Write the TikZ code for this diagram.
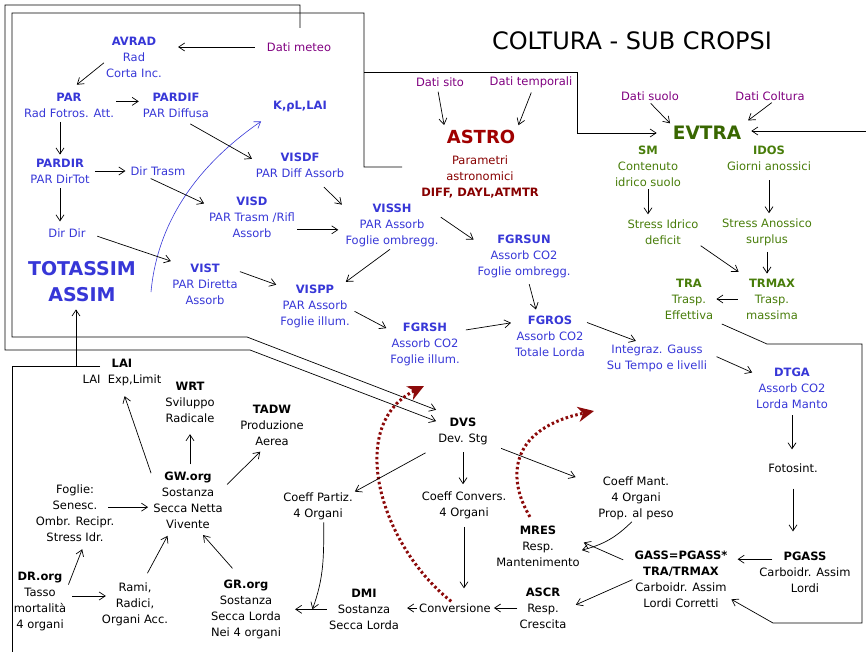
\documentclass[tikz,border=0pt]{standalone}
\usepackage{fontspec}
\setmainfont{DejaVu Sans}
\usepackage{color}
\usetikzlibrary{arrows.meta,calc}
\definecolor{blu}{RGB}{55,55,215}
\definecolor{viola}{RGB}{128,0,128}
\definecolor{rosso}{RGB}{160,0,0}
\definecolor{rossoT}{RGB}{135,0,0}
\definecolor{grnD}{RGB}{56,102,0}
\definecolor{grnT}{RGB}{72,125,10}
\definecolor{dkred}{RGB}{140,10,10}

\begin{document}
\begin{tikzpicture}[x=1pt, y=-1pt, font=\fontsize{11.5}{16}\selectfont,
		box/.style={align=center, inner sep=2pt},
		bl/.style={box, text=blu},
		gr/.style={box, text=grnT},
		bk/.style={box, text=black},
		dati/.style={box, text=viola},
		arr/.style={-{Straight Barb[length=6pt,width=8pt]}, line width=0.7pt},
		reddot/.style={draw=dkred, line width=3pt, dash pattern=on 2.5pt off 2.5pt, -{Stealth[length=16pt,width=15pt,inset=5pt]}}]
				\useasboundingbox (0,0) rectangle (866,652);
				\node[font=\fontsize{24}{28}\selectfont] (TITLE)at(632, 41) {COLTURA - SUB CROPSI};
				\node[bl] (AVRAD)at(134, 57.5) {\textbf{AVRAD}\\Rad\\Corta Inc.};
				\node[bl] (PAR)at(69, 105.5) {\textbf{PAR}\\Rad Fotros. Att.};
				\node[bl] (PARDIF)at(176, 105) {\textbf{PARDIF}\\PAR Diffusa};
				\node[bl] (PARDIR)at(60, 171) {\textbf{PARDIR}\\PAR DirTot};
				\node[bl] (DIRTR)at(158, 171) {Dir Trasm};
				\node[bl] (DIRDIR)at(67, 233) {Dir Dir};
				\node[bl] (KRL)at(300, 107) {\textbf{K,ρL,LAI}};
				\node[bl] (VISDF)at(300, 165.5) {\textbf{VISDF}\\PAR Diff Assorb};
				\node[bl] (VISD)at(252, 217.7) {\textbf{VISD}\\PAR Trasm /Rifl\\Assorb};
				\node[bl] (VISSH)at(392, 225.7) {\textbf{VISSH}\\PAR Assorb\\Foglie ombregg.};
				\node[bl] (VIST)at(205, 284.3) {\textbf{VIST}\\PAR Diretta\\Assorb};
				\node[bl] (VISPP)at(315, 306.7) {\textbf{VISPP}\\PAR Assorb\\Foglie illum.};
				\node[bl] (FGRSUN)at(524, 256.7) {\textbf{FGRSUN}\\Assorb CO2\\Foglie ombregg.};
				\node[bl] (FGRSH)at(425, 344) {\textbf{FGRSH}\\Assorb CO2\\Foglie illum.};
				\node[bl] (FGROS)at(550, 336) {\textbf{FGROS}\\Assorb CO2\\Totale Lorda};
				\node[bl] (GAUSS)at(657, 358) {Integraz. Gauss\\Su Tempo e livelli};
				\node[bl] (DTGA)at(792, 388.7) {\textbf{DTGA}\\Assorb CO2\\Lorda Manto};
				\node[bl, font=\fontsize{19}{26}\selectfont\bfseries] (TOTASSIM)at(82, 282) {TOTASSIM\\ASSIM};
				\node[bk] (FOTOS)at(793, 468) {Fotosint.};
				\node[bk] (PGASS)at(805, 572) {\textbf{PGASS}\\Carboidr. Assim\\Lordi};
				\node[bk] (GASS)at(681, 579.7) {\textbf{GASS=PGASS*}\\\textbf{TRA/TRMAX}\\Carboidr. Assim\\Lordi Corretti};
				\node[bk] (CMANT)at(636, 498) {Coeff Mant.\\4 Organi\\Prop. al peso};
				\node[bk] (DVS)at(463, 431.5) {\textbf{DVS}\\Dev. Stg};
				\node[bk] (CPART)at(318, 506.5) {Coeff Partiz.\\4 Organi};
				\node[bk] (CCONV)at(464, 505) {Coeff Convers.\\4 Organi};
				\node[bk] (CONV)at(455, 608) {Conversione};
				\node[bk] (ASCR)at(543, 608) {\textbf{ASCR}\\Resp.\\Crescita};
				\node[bk] (MRES)at(538, 546.3) {\textbf{MRES}\\Resp.\\Mantenimento};
				\node[bk] (DMI)at(364, 609.3) {\textbf{DMI}\\Sostanza\\Secca Lorda};
				\node[bk] (LAI)at(122, 373) {\textbf{LAI}\\LAI\ \ Exp,Limit};
				\node[bk] (WRT)at(190, 402.7) {\textbf{WRT}\\Sviluppo\\Radicale};
				\node[bk] (TADW)at(272, 425.7) {\textbf{TADW}\\Produzione\\Aerea};
				\node[bk] (GWORG)at(188, 500) {\textbf{GW.org}\\Sostanza\\Secca Netta\\Vivente};
				\node[bk] (FOGLIE)at(75, 513) {Foglie:\\Senesc.\\Ombr. Recipr.\\Stress Idr.};
				\node[bk] (DRORG)at(40, 601) {\textbf{DR.org}\\Tasso\\mortalità\\4 organi};
				\node[bk] (RAMI)at(135, 604) {Rami,\\Radici,\\Organi Acc.};
				\node[bk] (GRORG)at(246, 609) {\textbf{GR.org}\\Sostanza\\Secca Lorda\\Nei 4 organi};
				\node[dati] (METEO)at(299, 47) {Dati meteo};
				\node[dati] (SITO)at(440, 82) {Dati sito};
				\node[dati] (TEMPO)at(531, 82) {Dati temporali};
				\node[dati] (SUOLO)at(650, 96) {Dati suolo};
				\node[dati] (COLT)at(770, 96) {Dati Coltura};
				\node[box, text=rosso, font=\fontsize{18}{22}\selectfont\bfseries] (ASTRO)at(481, 137) {ASTRO};
				\node[box, text=rossoT] (PARAM)at(480, 177.3) {Parametri\\astronomici\\\textbf{DIFF, DAYL,ATMTR}};
				\node[box, text=grnD, font=\fontsize{18.5}{22}\selectfont\bfseries] (EVTRA)at(707, 133) {EVTRA};
				\node[gr] (SM)at(648, 166.7) {\textbf{SM}\\Contenuto\\idrico suolo};
				\node[gr] (IDOS)at(769, 158.5) {\textbf{IDOS}\\Giorni anossici};
				\node[gr] (SID)at(663, 232) {Stress Idrico\\deficit};
				\node[gr] (SAN)at(767, 232) {Stress Anossico\\surplus};
				\node[gr] (TRA)at(689, 299) {\textbf{TRA}\\Trasp.\\Effettiva};
				\node[gr] (TRMAX)at(772, 299) {\textbf{TRMAX}\\Trasp.\\massima};
				\coordinate (O1)at(300, 28);
				\coordinate (O2)at(300, 5);
				\coordinate (O3)at(5, 5);
				\coordinate (O4)at(5, 350);
				\coordinate (O5)at(250, 350);
				\coordinate (I1)at(402, 167);
				\coordinate (I2)at(364, 167);
				\coordinate (I3)at(364, 13);
				\coordinate (I4)at(12, 13);
				\coordinate (I5)at(12, 337);
				\coordinate (I6)at(247, 337);
				\coordinate (B1)at(364, 72);
				\coordinate (B2)at(577, 72);
				\coordinate (L1)at(100, 366);
				\coordinate (L2)at(12, 366);
				\coordinate (L3)at(12, 652);
				\coordinate (R0)at(866, 131);
				\coordinate (R1)at(767, 344);
				\coordinate (R2)at(862, 344);
				\coordinate (R3)at(862, 623);
				\coordinate (R4)at(773, 623);
				\coordinate (BLU)at(151, 292);
				\coordinate (RT1)at(424, 386);
				\coordinate (RT2)at(594, 411);
				\draw[arr] (O1) -- (O2) -- (O3) -- (O4) -- (O5) -- (DVS.159);
				\draw[arr] (I1) -- (I2) -- (I3) -- (I4) -- (I5) -- (I6) -- ([yshift=6pt]DVS.north west);
				\draw[arr, shorten >=14pt] (B1) -- (B2) |- (EVTRA.west);
				\draw[line width=0.7pt] (L1) -- (L2) -- (L3);
				\draw[arr, shorten >=5pt] (TOTASSIM.-105 |- L1) -- (TOTASSIM.-105);
				\draw[arr, shorten >=8pt] (R0) -- (R0 -| EVTRA.east);
				\draw[arr, shorten <=7pt, shorten >=2pt] (TRA.-40) -- (R1) -- (R2) -- (R3) -- (R4) -- (GASS.-21);
				\draw[blu, line width=0.6pt, -{Straight Barb[length=6pt,width=8pt]}, shorten >=12pt] (BLU) .. controls (158,215) and (205,160) .. (KRL.south west);
				\draw[reddot] (CONV.120) .. controls (380,545) and (345,425) .. (RT1);
				\draw[reddot, shorten <=8pt] (MRES.100) .. controls (505,475) and (512,428) .. (RT2);
				\draw[arr, shorten <=10pt, shorten >=14pt] (METEO.west) -- (AVRAD.east |- METEO.west);
				\draw[arr, shorten >=10pt] (AVRAD.190) -- (PAR.north);
				\draw[arr, shorten >=2pt] (PAR.5) -- (PAR.5 -| PARDIF.west);
				\draw[arr, shorten <=2pt, shorten >=2pt] (PARDIR.north |- PAR.south) -- (PARDIR.north);
				\draw[arr, shorten <=3pt, shorten >=3pt] (PARDIR.east |- DIRTR.west) -- (DIRTR.west);
				\draw[arr, shorten <=3pt, shorten >=5pt] (PARDIR.south) -- (PARDIR.south |- DIRDIR.north);
				\draw[arr, shorten <=9pt, shorten >=2pt] (PARDIF.-66) -- (VISDF.173);
				\draw[arr, shorten <=2pt, shorten >=3pt] (DIRTR.216) -- (VISD.164);
				\draw[arr, shorten <=10pt, shorten >=2pt] (VISDF.-41) -- (VISSH.158);
				\draw[arr, shorten >=5pt] (VISD.-15) -- (VISD.-15 -| VISSH.west);
				\draw[arr, shorten <=10pt, shorten >=2pt] (DIRDIR.east) -- (VIST.145);
				\draw[arr, shorten >=2pt] (VIST.20) -- (VISPP.150);
				\draw[arr, shorten >=2pt] (VISSH.-95) -- (VISPP.39);
				\draw[arr, shorten >=2pt] (VISSH.10) -- (FGRSUN.162);
				\draw[arr, shorten <=3pt, shorten >=2pt] (VISPP.-5) -- (FGRSH.158);
				\draw[arr, shorten <=4pt, shorten >=2pt] (FGRSH.20) -- (FGROS.160);
				\draw[arr, shorten <=4pt, shorten >=4pt] (FGRSUN.-80) -- (FGROS.120);
				\draw[arr, shorten >=4pt] (FGROS.20) -- (GAUSS.138);
				\draw[arr, shorten <=8pt, shorten >=2pt] (GAUSS.5) -- (DTGA.158);
				\draw[arr, shorten <=4pt, shorten >=12pt] (DTGA.south) -- (DTGA.south |- FOTOS.north);
				\draw[arr, shorten <=14pt, shorten >=18pt] (FOTOS.south) -- (FOTOS.south |- PGASS.north);
				\draw[arr, shorten <=-15pt, shorten >=8pt] (PGASS.165) -- (PGASS.165 -| GASS.east);
				\draw[arr, shorten <=10pt, shorten >=2pt] (GASS.162) -- (MRES.6);
				\draw[arr] (CMANT.-100) to[bend left=15] (MRES.-5);
				\draw[arr, shorten >=8pt] (GASS.west) -- (ASCR.east);
				\draw[arr, shorten >=1pt] (ASCR.west |- CONV.east) -- (CONV.east);
				\draw[arr, shorten >=6pt] (CONV.west) -- (CONV.west -| DMI.east);
				\draw[arr, shorten >=12pt] (DMI.west) -- (DMI.west -| GRORG.east);
				\draw[arr] (CPART.-70) to[out=-90, in=70] ($(DMI.west)!0.33!(GRORG.east)$);
				\draw[arr, shorten <=12pt] (DVS.210) -- (CPART.22);
				\draw[arr, shorten <=5pt, shorten >=5pt] (DVS.south) -- (DVS.south |- CCONV.north);
				\draw[arr, shorten <=6pt, shorten >=13pt] (CCONV.south) -- (CCONV.south |- CONV.north);
				\draw[arr, shorten <=12pt, shorten >=22pt] (DVS.-25) -- (CMANT.162);
				\draw[arr, shorten >=8pt] (GWORG.144) -- (LAI.south);
				\draw[arr, shorten <=5pt, shorten >=9pt] (WRT.south |- GWORG.north) -- (WRT.south);
				\draw[arr, shorten <=3pt, shorten >=5pt] (GWORG.20) -- (TADW.-110);
				\draw[arr, shorten <=-8pt, shorten >=3pt] (FOGLIE.8) -- (FOGLIE.8 -| GWORG.west);
				\draw[arr, shorten >=6pt] (DRORG.30) -- (FOGLIE.-73);
				\draw[arr, shorten <=4pt, shorten >=-6pt] (DRORG.10) -- (DRORG.10 -| RAMI.west);
				\draw[arr, shorten <=8pt, shorten >=6pt] (RAMI.70) -- (GWORG.-120);
				\draw[arr, shorten <=12pt, shorten >=6pt] (GRORG.100) -- (GWORG.-70);
				\draw[arr, shorten <=3pt, shorten >=3pt] (SITO.-110) -- (ASTRO.north west);
				\draw[arr, shorten <=3pt, shorten >=3pt] (TEMPO.-80) -- (ASTRO.north east);
				\draw[arr, shorten <=1pt, shorten >=1pt] (SUOLO.south) -- (EVTRA.north west);
				\draw[arr, shorten >=6pt] (COLT.-75) -- (EVTRA.north east);
				\draw[arr, shorten >=3pt] (SM.south) -- (SM.south |- SID.north);
				\draw[arr, shorten <=7pt, shorten >=3pt] (IDOS.south) -- (IDOS.south |- SAN.north);
				\draw[arr, shorten <=4pt, shorten >=3pt] (SAN.south) -- (SAN.south |- TRMAX.north);
				\draw[arr, shorten >=8pt] (SID.-20) -- (TRMAX.140);
				\draw[arr, shorten <=6pt, shorten >=1pt] (TRMAX.west) -- (TRA.east);
			\end{tikzpicture}
\end{document}
